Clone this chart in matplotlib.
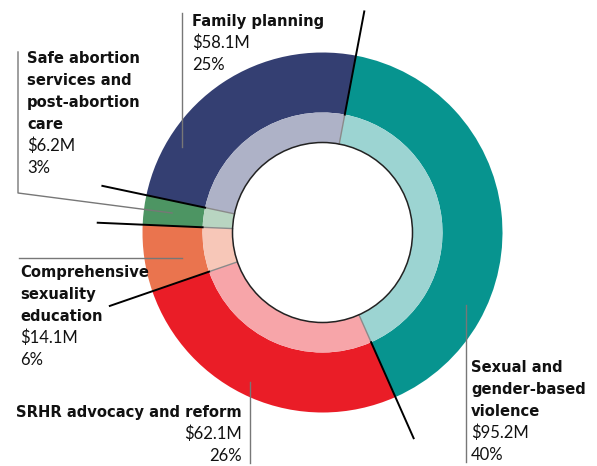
import numpy as np
import matplotlib.pyplot as plt
from matplotlib.colors import to_rgb
from matplotlib.patches import Circle

# funding by thematic area, in millions (clockwise from the top)
categories = ["Sexual and gender-based violence", "SRHR advocacy and reform",
              "Comprehensive sexuality education",
              "Safe abortion services and post-abortion care", "Family planning"]
amounts = [95.2, 62.1, 14.1, 6.2, 58.1]
label_lines = [["Sexual and", "gender-based", "violence"],
               ["SRHR advocacy and reform"],
               ["Comprehensive", "sexuality", "education"],
               ["Safe abortion", "services and", "post-abortion", "care"],
               ["Family planning"]]
colours = ["#07948F", "#EA1D27", "#EA744E", "#4D9563", "#343F72"]

W, H = 597, 466
cx, cy = 322.5, 233.5
r_out, r_mid, r_in = 180, 120, 90
start = 79.3

def pale(c, a=0.4):
    rgb = np.array(to_rgb(c))
    return tuple(a * rgb + (1 - a))

fig = plt.figure(figsize=(W / 100, H / 100), dpi=100)
ax = fig.add_axes([0, 0, 1, 1])

ax.pie(amounts, radius=r_out, center=(cx, cy), startangle=start, counterclock=False,
       colors=colours, wedgeprops=dict(width=r_out - r_mid, linewidth=0))
ax.pie(amounts, radius=r_mid, center=(cx, cy), startangle=start, counterclock=False,
       colors=[pale(c) for c in colours], wedgeprops=dict(width=r_mid - r_in, linewidth=0))

# hole outline
ax.add_patch(Circle((cx, cy), r_in, facecolor="none", edgecolor="#222222", lw=1.1, zorder=3))

# segment boundaries: grey through the inner ring, black beyond it
total = sum(amounts)
bounds = start - 360 * np.concatenate([[0], np.cumsum(amounts)[:-1]]) / total
for b in bounds:
    a = np.radians(b)
    ca, sa = np.cos(a), np.sin(a)
    ax.plot([cx + r_in * ca, cx + r_mid * ca], [cy + r_in * sa, cy + r_mid * sa],
            color="#8a8a8a", lw=1)
    ax.plot([cx + r_mid * ca, cx + 225 * ca], [cy + r_mid * sa, cy + 225 * sa],
            color="black", lw=1.4)

# grey leader lines (pixel coordinates, y from top)
leaders = [[(466, 305), (466, 462)],
           [(250, 382), (250, 463)],
           [(19, 258), (182, 258)],
           [(18, 52), (18, 193), (172, 213)],
           [(182, 13), (182, 147)]]
for pts in leaders:
    xs = [p[0] for p in pts]
    ys = [H - p[1] for p in pts]
    ax.plot(xs, ys, color="#777777", lw=1)

# label blocks: x, first baseline, alignment
blocks = [(471, 372, "left"), (242, 417, "right"), (20, 277, "left"),
          (27, 63, "left"), (192, 26, "left")]
step = 22
for lines, amt, (x, y0, ha) in zip(label_lines, amounts, blocks):
    pct = round(amt / total * 100)
    y = y0
    for ln in lines:
        ax.text(x, H - y, ln, ha=ha, va="baseline", fontsize=10.6,
                fontweight="bold", family="DejaVu Sans", color="#111111")
        y += step
    for ln in [f"${amt}M", f"{pct}%"]:
        ax.text(x, H - y, ln, ha=ha, va="baseline", fontsize=12,
                family="Lato", color="#111111")
        y += step

ax.set_xlim(0, W)
ax.set_ylim(0, H)
ax.set_aspect("equal")
ax.axis("off")
fig.savefig("out.png", dpi=100)
